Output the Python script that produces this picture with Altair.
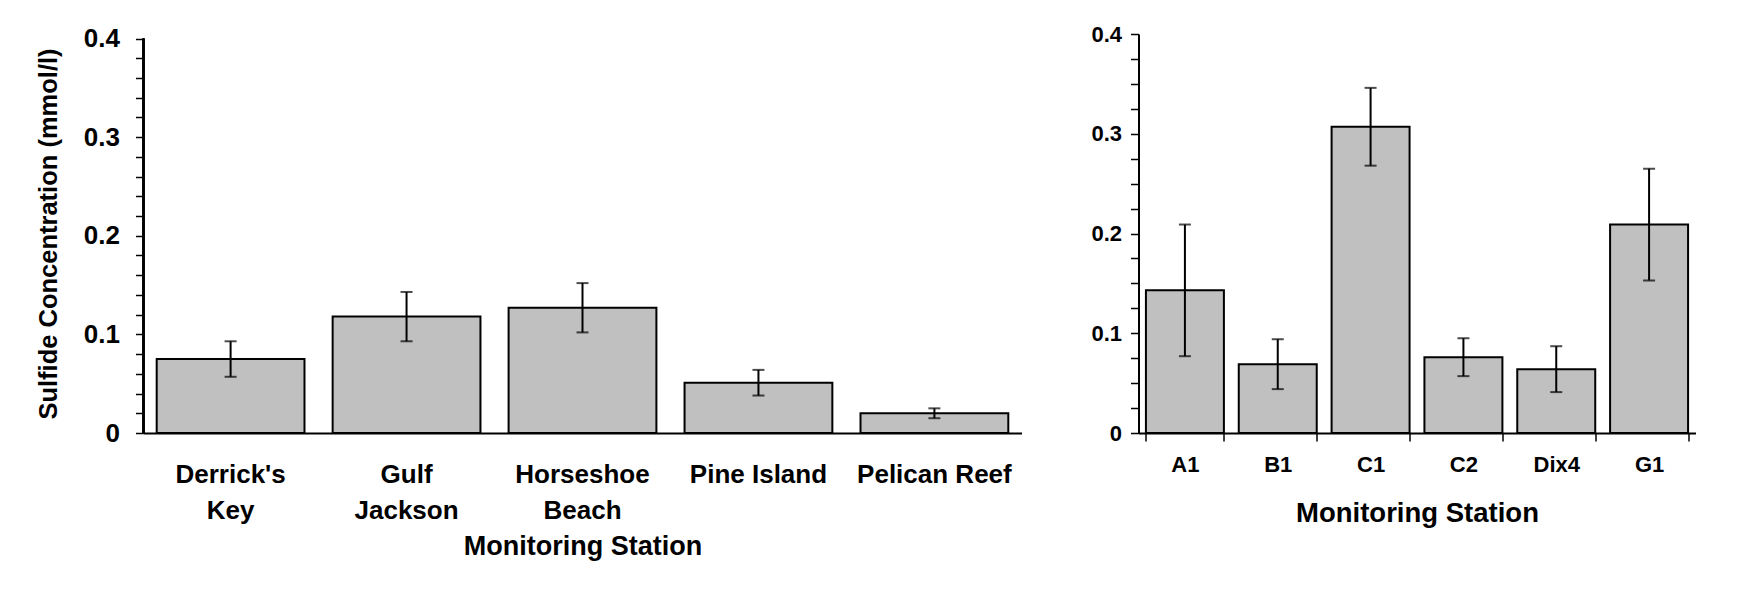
import altair as alt
import pandas as pd

# ---- data ----
left_stations = ["Derrick's Key", "Gulf Jackson", "Horseshoe Beach", "Pine Island", "Pelican Reef"]
left_means = [0.075, 0.118, 0.127, 0.051, 0.020]
left_err = [0.018, 0.025, 0.025, 0.013, 0.005]

right_stations = ["A1", "B1", "C1", "C2", "Dix4", "G1"]
right_means = [0.143, 0.069, 0.307, 0.076, 0.064, 0.209]
right_err = [0.066, 0.025, 0.039, 0.019, 0.023, 0.056]

left_ticks = [round(i * 0.02, 2) for i in range(21)]
right_ticks = [round(i * 0.025, 3) for i in range(17)]

FONT = "Liberation Sans"
LABEL_EXPR_Y = ("abs(datum.value*10 - round(datum.value*10)) < 0.001 ? "
                "(datum.value == 0 ? '0' : format(datum.value, '.1f')) : ''")


def panel(stations, means, errs, width, height, xaxis, yaxis, pad_in, pad_out, cap,
          ymax, axis_line_top=None):
    df = pd.DataFrame({"station": stations, "mean": means, "err": errs})
    base = alt.Chart(df).transform_calculate(
        lo="datum.mean - datum.err", hi="datum.mean + datum.err"
    )
    xenc = alt.X("station:N", sort=stations,
                 scale=alt.Scale(paddingInner=pad_in, paddingOuter=pad_out),
                 axis=xaxis)
    yscale = alt.Scale(domain=[0, ymax], nice=False, zero=True)
    bars = base.mark_bar(color="#c0c0c0", stroke="black", strokeWidth=2).encode(
        x=xenc, y=alt.Y("mean:Q", scale=yscale, axis=yaxis))
    stem = base.mark_rule(color="black", strokeWidth=2).encode(
        x=xenc, y=alt.Y("lo:Q", scale=yscale, axis=yaxis), y2="hi:Q")
    cap_lo = base.mark_tick(color="black", thickness=2, size=cap).encode(
        x=xenc, y=alt.Y("lo:Q", scale=yscale, axis=yaxis))
    cap_hi = base.mark_tick(color="black", thickness=2, size=cap).encode(
        x=xenc, y=alt.Y("hi:Q", scale=yscale, axis=yaxis))
    layers = [bars, stem, cap_lo, cap_hi]
    if axis_line_top is not None:
        axis_line = base.mark_rule(color="black", strokeWidth=2).encode(
            x=alt.value(0), y=alt.datum(0, scale=yscale, axis=yaxis),
            y2=alt.datum(axis_line_top))
        layers.append(axis_line)
    return alt.layer(*layers).properties(width=width, height=height)


left_x_axis = alt.Axis(
    title="Monitoring Station", labelAngle=0, ticks=False,
    labelExpr="indexof(['Pine Island','Pelican Reef'], datum.label) >= 0 ? datum.label : split(datum.label, ' ')",
    labelFontSize=26, labelLineHeight=36.5, labelPadding=28, labelLimit=300,
    titleFontSize=27, titlePadding=10, domainWidth=2, domainColor="black",
)
left_y_axis = alt.Axis(
    title="Sulfide Concentration (mmol/l)", values=left_ticks, labelExpr=LABEL_EXPR_Y,
    labelFontSize=26, labelPadding=16, tickSize=8, tickWidth=1.5, tickColor="black",
    domain=False, grid=False, labelOverlap=False,
    titleFontSize=25.5, titlePadding=22,
)
right_x_axis = alt.Axis(
    title="Monitoring Station", labelAngle=0, ticks=True, tickBand="extent",
    tickSize=8, tickWidth=1.5, tickColor="black",
    labelFontSize=22, labelPadding=13,
    titleFontSize=27.5, titlePadding=24.5, domainWidth=2, domainColor="black",
)
right_y_axis = alt.Axis(
    title=None, values=right_ticks, labelExpr=LABEL_EXPR_Y,
    labelFontSize=22, labelPadding=9, tickSize=8, tickWidth=1.5, tickColor="black",
    domainWidth=2, domainColor="black", grid=False, labelOverlap=False,
)

left = panel(left_stations, left_means, left_err, 878, 399, left_x_axis, left_y_axis,
             0.16, 0.075, 12, 0.4 * 399 / 394.5, axis_line_top=0.4)
right = panel(right_stations, right_means, right_err, 557, 399, right_x_axis, right_y_axis,
              0.16, 0.08, 12, 0.4)

chart = alt.hconcat(left, right, spacing=69).properties(
    padding={"left": 27.5, "top": 15, "right": 5, "bottom": 5},
    background="white",
).configure_view(stroke=None).configure_axis(
    labelFont=FONT, titleFont=FONT, labelFontWeight="bold", titleFontWeight="bold",
    labelColor="black", titleColor="black",
)

chart.save("out.html", embed_options={"renderer": "svg", "actions": False})
